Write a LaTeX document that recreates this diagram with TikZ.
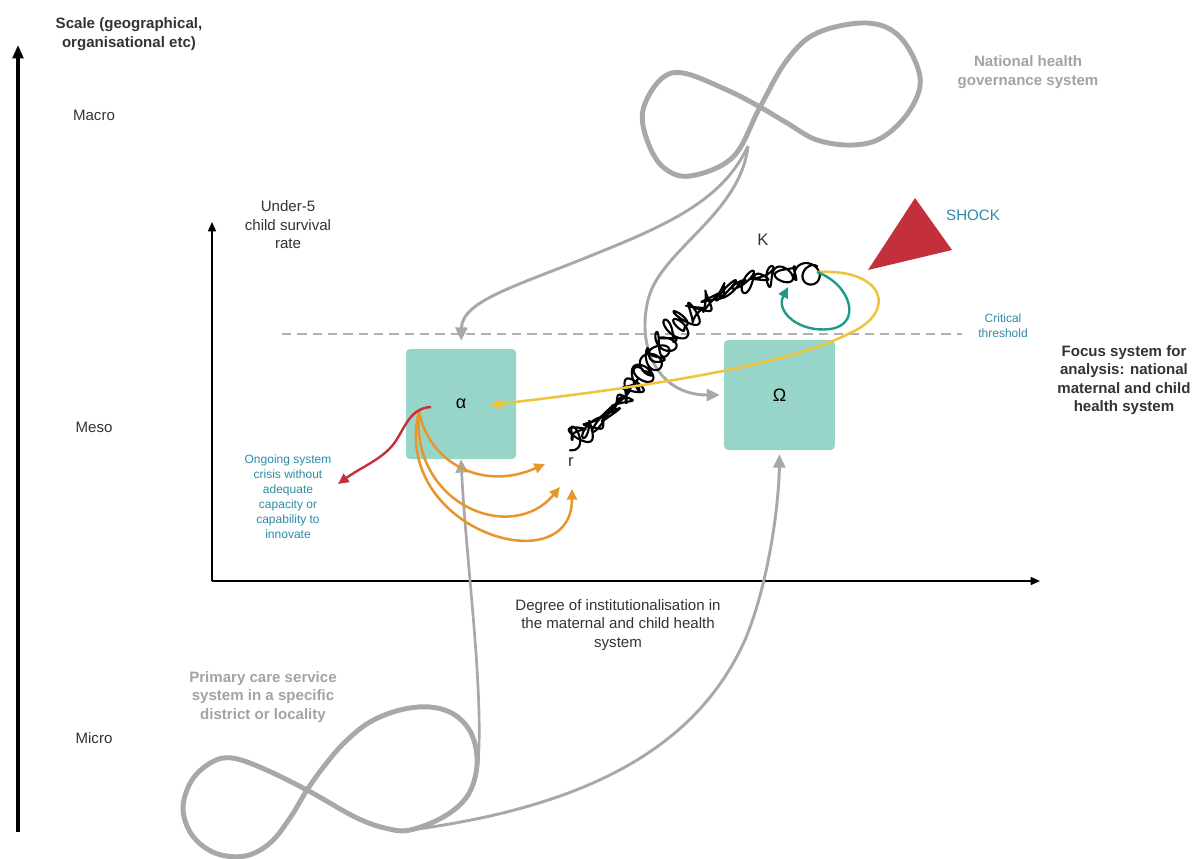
\documentclass[tikz,border=0pt]{standalone}
\usepackage{fontspec}
\setmainfont{Liberation Sans}
\usetikzlibrary{arrows.meta}
\definecolor{loopgray}{HTML}{A8A8A8}
\definecolor{labelgray}{HTML}{A3A3A3}
\definecolor{txtdark}{HTML}{333333}
\definecolor{boxteal}{HTML}{98D5C9}
\definecolor{tealtxt}{HTML}{2C8BA8}
\definecolor{orangeA}{HTML}{E8962C}
\definecolor{yellowA}{HTML}{F0C33C}
\definecolor{redA}{HTML}{C3303C}
\definecolor{greenA}{HTML}{1E9A86}
\definecolor{dashgray}{HTML}{B0B0B0}
\tikzset{
  lbl/.style={font=\fontsize{11.3}{13.8}\selectfont, text=txtdark, align=center, inner sep=0pt},
  boldlbl/.style={lbl, font=\fontsize{11.3}{13.8}\selectfont\bfseries},
  graylbl/.style={lbl, font=\fontsize{11.3}{13.8}\selectfont\bfseries, text=labelgray},
  smalltxt/.style={font=\fontsize{9}{11.2}\selectfont, text=tealtxt, align=center, inner sep=0pt},
  sysbox/.style={fill=boxteal, rounded corners=3pt, minimum width=82.5pt, minimum height=82.5pt, inner sep=0pt, font=\fontsize{13.5}{15}\selectfont, text=black},
  loopline/.style={draw=loopgray, line width=3.7pt, line join=round},
  grayconn/.style={draw=loopgray, line width=2.2pt, -{Triangle[length=10pt,width=9pt]}},
  orconn/.style={draw=orangeA, line width=1.9pt, -{Triangle[length=8pt,width=7.5pt]}},
  axisthin/.style={draw=black, line width=1.1pt, -{Triangle[length=7pt,width=6pt]}},
}
\begin{document}
\begin{tikzpicture}[x=0.75pt, y=-0.75pt,
  declare function={
    bx(\t)=(1-\t)*(1-\t)*(1-\t)*568+3*(1-\t)*(1-\t)*\t*660+3*(1-\t)*\t*\t*650+\t*\t*\t*817;
    by(\t)=(1-\t)*(1-\t)*(1-\t)*437+3*(1-\t)*(1-\t)*\t*410+3*(1-\t)*\t*\t*270+\t*\t*\t*272;
    ph(\t,\k)=360*frac(\t*\k);
  }]
\useasboundingbox (0,0) rectangle (1194,858);

% ---- scale axis ----
\coordinate (sbot) at (18,832);
\coordinate (stop) at (18,45);
\draw[line width=2.3pt, -{Triangle[length=10pt,width=8pt]}] (sbot) -- (stop);
\node[boldlbl] (scale) at (129,34) {Scale (geographical,\\organisational etc)};
\node[lbl] (macro) at (94,115) {Macro};
\node[lbl] (meso) at (94,427) {Meso};
\node[lbl] (micro) at (94,738) {Micro};

% ---- inner axes ----
\coordinate (orig) at (212,581);
\coordinate (ytop) at (212,222);
\coordinate (xend) at (1040,581);
\draw[axisthin] (orig) -- (ytop);
\draw[axisthin] (orig) -- (xend);
\node[lbl] (ylab) at (288,225) {Under-5\\child survival\\rate};
\node[lbl] (xlab) at (618,625) {Degree of institutionalisation in\\the maternal and child health\\system};

% ---- critical threshold ----
\coordinate (th1) at (282,334);
\coordinate (th2) at (962,334);
\draw[dashgray, line width=1.3pt, dash pattern=on 7pt off 4.5pt] (th1) -- (th2);
\node[smalltxt] (crit) at (1003,326) {Critical\\threshold};

% ---- boxes ----
\node[sysbox] (alpha) at (461,404) {α};
\node[sysbox, minimum width=83pt] (omega) at (779.5,395) {Ω};

% ---- labels ----
\node[graylbl] (natl) at (1028,72) {National health\\governance system};
\node[graylbl] (prim) at (263,697) {Primary care service\\system in a specific\\district or locality};
\node[boldlbl] (focus) at (1124,380) {Focus system for\\analysis: national\\maternal and child\\health system};
\node[smalltxt] (crisis) at (288,497) {Ongoing system\\crisis without\\adequate\\capacity or\\capability to\\innovate};
\node[font=\fontsize{11.3}{13}\selectfont, text=tealtxt, inner sep=0pt] (shocklbl) at (973,215) {SHOCK};
\node[lbl, font=\fontsize{12.5}{14}\selectfont] (K) at (763,240) {K};
\node[lbl, font=\fontsize{12.5}{14}\selectfont] (r) at (571,462) {r};

% ---- shock triangle ----
\fill[redA] (915,198) -- (952,250) -- (868,270) -- cycle;

% ---- top figure-eight ----
\draw[loopline] plot[smooth cycle, tension=0.6] coordinates {
 (760,107) (787,60) (817,33) (867,23) (900,37) (920,77) (910,110) (883,137)
 (853,145) (817,140) (787,123) (760,107) (727,90) (683,73) (660,80) (643,110)
 (647,140) (663,167) (690,176) (733,157)};
\coordinate (tsplit) at (748,146);
\draw[grayconn, shorten >=6pt] (tsplit) .. controls (725,195) and (680,220) .. (600,252)
   .. controls (520,285) and (462,300) .. (alpha.north);
\draw[grayconn, shorten >=3pt] (tsplit) .. controls (740,215) and (660,250) .. (648,300)
   .. controls (636,350) and (660,395) .. (omega.west);

% ---- bottom figure-eight ----
\draw[loopline] plot[smooth cycle, tension=0.6] coordinates {
 (410,830) (445,816) (468,795) (477,765) (472,735) (455,715) (430,707) (400,710)
 (370,722) (345,742) (325,765) (307,790) (290,818) (270,843) (245,856) (215,853)
 (192,835) (183,808) (192,780) (212,762) (232,758) (262,768) (307,790) (355,817) (385,828)};
\coordinate (bvert) at (478,765);
\coordinate (bjunc) at (410,830);
\draw[grayconn, line width=2pt] (bvert) .. controls (484,690) and (466,560) .. (alpha.south);
\draw[grayconn, shorten >=3pt] (bjunc) .. controls (600,805) and (700,740) .. (745,640)
   .. controls (770,580) and (779,500) .. (omega.south);

% ---- scribble ----
\coordinate (kstart) at (568,437);
\coordinate (kend) at (817,272);
\draw[black, line width=1.6pt, line join=round, line cap=round]
  plot[variable=\t, samples=1500, domain=0:1]
  ({bx(\t)+7*sin(ph(\t,34))+4*sin(ph(\t,53.3)+30)+2.5*sin(ph(\t,17.7))},
   {by(\t)+7*cos(ph(\t,35.5))+4*sin(ph(\t,49.9)+70)+2.5*cos(ph(\t,15.3))});

% ---- orange arrows ----
\coordinate (aorig) at (419,411);
\draw[orconn] (aorig) .. controls (428,462) and (482,492) .. (545,464);
\draw[orconn] (aorig) .. controls (410,505) and (512,545) .. (560,487);
\draw[orconn] (aorig) .. controls (390,530) and (572,585) .. (572,489);

% ---- red arrow ----
\coordinate (rstart) at (431,407);
\coordinate (rtip) at (338,484);
\draw[redA, line width=1.8pt, -{Triangle[length=8pt,width=7.5pt]}] (rstart)
  .. controls (408,408) and (404,432) .. (392,446)
  .. controls (380,460) and (360,468) .. (rtip);

% ---- yellow arrow ----
\coordinate (ytip) at (490,405);
\draw[yellowA, line width=1.9pt, -{Triangle[length=8pt,width=7.5pt]}] (kend)
  .. controls (885,268) and (898,312) .. (850,333)
  .. controls (780,370) and (600,392) .. (ytip);

% ---- green loop ----
\draw[greenA, line width=1.8pt, -{Triangle[length=8pt,width=7.5pt]}] (kend)
  .. controls (852,285) and (862,325) .. (830,329)
  .. controls (800,333) and (775,312) .. (788,287);

\end{tikzpicture}
\end{document}
